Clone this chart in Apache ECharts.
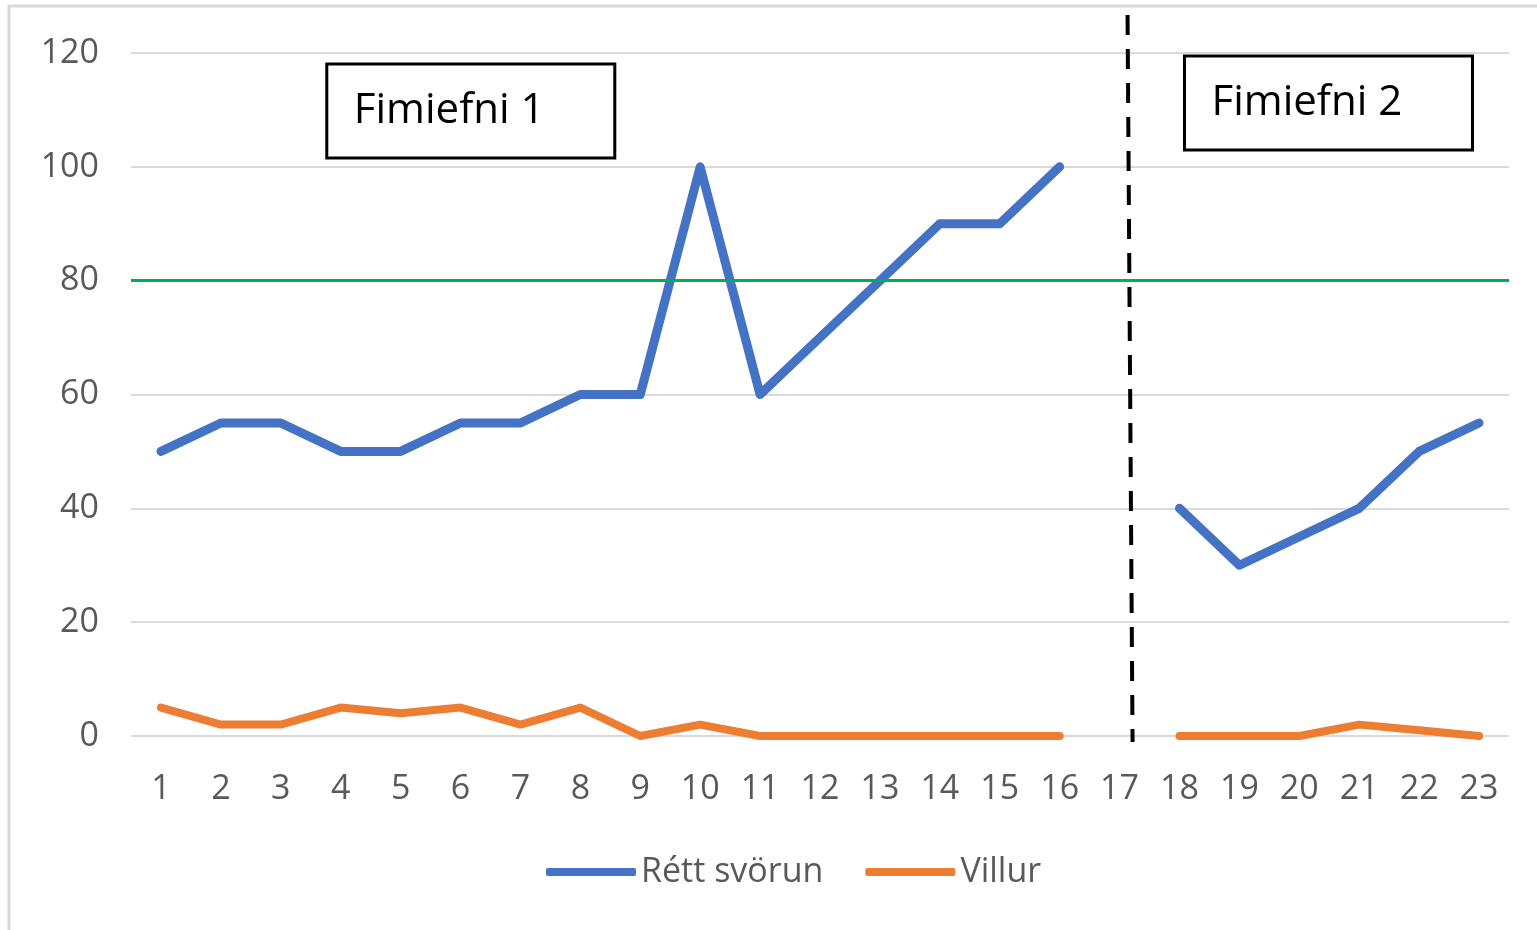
<!DOCTYPE html>
<html>
<head>
<meta charset="utf-8">
<script src="https://cdn.jsdelivr.net/npm/echarts@6/dist/echarts.min.js"></script>
<style>
  html, body { margin: 0; padding: 0; background: #fff; }
  #myChart { width: 1537px; height: 930px; }
</style>
</head>
<body>
<div id="myChart"></div>
<script>
// chart data
const categories = ['1', '2', '3', '4', '5', '6', '7', '8', '9', '10', '11', '12',
  '13', '14', '15', '16', '17', '18', '19', '20', '21', '22', '23']
const rettSvorun = [50, 55, 55, 50, 50, 55, 55, 60, 60, 100, 60, 70,
  80, 90, 90, 100, null, 40, 30, 35, 40, 50, 55]
const villur = [5, 2, 2, 5, 4, 5, 2, 5, 0, 2, 0, 0,
  0, 0, 0, 0, null, 0, 0, 0, 2, 1, 0]
const yTicks = { min: 0, max: 120, interval: 20 }
const targetLine = 80
const splitAt = '17'
const boxLabels = ['Fimiefni 1', 'Fimiefni 2']

const font = 'Open Sans, DejaVu Sans, sans-serif'
const labelColor = '#595959'

let myChart = echarts.init(document.getElementById('myChart'))

let options = {
  animation: false,
  grid: {
    left: 131,
    right: 28,
    top: 53,
    bottom: 194,
    containLabel: false
  },
  legend: {
    bottom: 36,
    left: 541,
    icon: 'roundRect',
    itemWidth: 90,
    itemHeight: 8,
    itemGap: 42,
    textStyle: { fontFamily: font, fontSize: 34, color: labelColor, padding: [0, 0, 0, 0] },
    data: ['Rétt svörun', 'Villur']
  },
  xAxis: {
    type: 'category',
    data: categories,
    boundaryGap: true,
    axisLine: { show: false },
    axisTick: { show: false },
    axisLabel: { fontFamily: font, fontSize: 34, color: labelColor, margin: 36 }
  },
  yAxis: {
    type: 'value',
    min: yTicks.min,
    max: yTicks.max,
    interval: yTicks.interval,
    axisLine: { show: false },
    axisTick: { show: false },
    axisLabel: { fontFamily: font, fontSize: 34, color: labelColor, margin: 32 },
    splitLine: { lineStyle: { color: '#D9D9D9', width: 2 } }
  },
  series: [
    {
      name: 'Rétt svörun',
      type: 'line',
      data: rettSvorun,
      showSymbol: false,
      connectNulls: false,
      color: '#4472C4',
      lineStyle: { width: 9, cap: 'round', join: 'round' },
      markLine: {
        silent: true,
        symbol: 'none',
        label: { show: false },
        lineStyle: { color: '#00B050', width: 3, type: 'solid' },
        data: [{ yAxis: targetLine }]
      },
      z: 3
    },
    {
      name: 'Villur',
      type: 'line',
      data: villur,
      showSymbol: false,
      connectNulls: false,
      color: '#ED7D31',
      lineStyle: { width: 8, cap: 'round', join: 'round' },
      z: 2
    }
  ]
}

myChart.setOption(options)

// dashed divider and the two label boxes, placed from the axes
let xSplit = myChart.convertToPixel({ xAxisIndex: 0 }, splitAt)
let yTop = myChart.convertToPixel({ yAxisIndex: 0 }, yTicks.max)
let yZero = myChart.convertToPixel({ yAxisIndex: 0 }, 0)
let x3 = myChart.convertToPixel({ xAxisIndex: 0 }, '3')
let x18 = myChart.convertToPixel({ xAxisIndex: 0 }, '18')

function labelBox (x, y, text) {
  return {
    type: 'group',
    x: x,
    y: y,
    children: [
      {
        type: 'rect',
        shape: { x: 0, y: 0, width: 288, height: 94 },
        style: { fill: '#fff', stroke: '#000', lineWidth: 3 }
      },
      {
        type: 'text',
        x: 27,
        y: 47,
        style: {
          text: text,
          font: '42px ' + font,
          fill: '#000',
          verticalAlign: 'middle'
        }
      }
    ]
  }
}

myChart.setOption({
  graphic: [
    {
      type: 'rect',
      silent: true,
      shape: { x: 9, y: 6, width: 1560, height: 960 },
      style: { fill: 'none', stroke: '#D9D9D9', lineWidth: 3 }
    },
    {
      type: 'line',
      silent: true,
      shape: { x1: xSplit + 8, y1: yTop - 38, x2: xSplit + 13, y2: yZero + 6 },
      style: { stroke: '#000', lineWidth: 4, lineDash: [20, 14] },
      z: 10
    },
    labelBox(x3 + 46, yTop + 11, boxLabels[0]),
    labelBox(x18 + 5, yTop + 3, boxLabels[1])
  ]
})
</script>
</body>
</html>
